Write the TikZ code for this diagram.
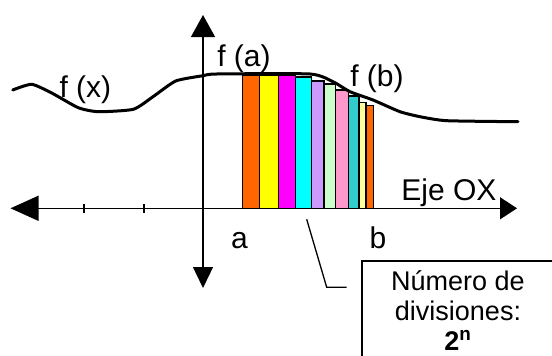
\documentclass[tikz,border=0pt]{standalone}
\usepackage{fontspec}
\setmainfont{Liberation Sans}
\usetikzlibrary{arrows.meta}
\definecolor{bOrange}{HTML}{FF6600}
\definecolor{bYellow}{HTML}{FFFF00}
\definecolor{bMagenta}{HTML}{FF00FF}
\definecolor{bCyan}{HTML}{00FFFF}
\definecolor{bLavender}{HTML}{CC99FF}
\definecolor{bLightGreen}{HTML}{CCFFCC}
\definecolor{bPink}{HTML}{FF99CC}
\definecolor{bTeal}{HTML}{33CCCC}
\definecolor{bLightYellow}{HTML}{FFFF99}
\begin{document}
\begin{tikzpicture}[x=1pt,y=-1pt,
  lbl/.style={font=\fontsize{30}{36}\selectfont, inner sep=0pt, anchor=base},
  boxtxt/.style={font=\fontsize{27}{30}\selectfont, inner sep=0pt, anchor=base},
  bar/.style={draw=black, line width=1.6pt},
  axis/.style={line width=1.3pt},
  thin/.style={line width=1.3pt},
  curve/.style={line width=3pt, line join=round, line cap=round}
  ]
\useasboundingbox (0,0) rectangle (552,356);
% bars
\foreach \l/\r/\t/\c in {242.5/259.5/75/bOrange, 259.5/278.5/75/bYellow,
  278.5/295.5/75/bMagenta, 295.5/311.5/76.7/bCyan, 311.5/323.8/80.7/bLavender,
  323.8/335.3/84/bLightGreen, 335.3/348.3/90/bPink, 348.3/359/96/bTeal,
  359/366/102.3/bLightYellow, 366/373.3/105.3/bOrange}
  \filldraw[bar, fill=\c] (\l,208.3) rectangle (\r,\t);
% curve
\draw[curve] plot[smooth, tension=0.35] coordinates {(12.7,90) (31.7,84.3) (51.7,93) (78.3,107.7) (98.3,111.7) (133.3,109.3) (153,96.7) (175.7,81) (203,75.7) (216.7,74) (310,74) (333,81.7) (350,91.7) (373,100) (400,111.7) (420,116.7) (446.7,120.7) (518,121.7)};
% axes
\coordinate (xl) at (10.5,208.3);
\coordinate (xr) at (517,208.3);
\coordinate (yt) at (203,15);
\coordinate (yb) at (203,288);
\draw[axis, {Triangle[length=28pt,width=25pt]}-{Triangle[length=17pt,width=22pt]}] (xl) -- (xr);
\draw[axis, {Triangle[length=21pt,width=20pt]}-{Triangle[length=22pt,width=24pt]}] (yb) -- (yt);
\draw[axis] (84,204) -- (84,213);
\draw[axis] (144,204) -- (144,213);
% labels
\node[lbl] (fx) at (85.4,97.5) {f (x)};
\node[lbl] (fa) at (244,66) {f (a)};
\node[lbl] (fb) at (377,86) {f (b)};
\node[lbl] (eje) at (449,200) {Eje OX};
\node[lbl] (la) at (239.5,248.3) {a};
\node[lbl] (lb) at (378,248.3) {b};
% box
\begin{scope}
\clip (0,0) rectangle (552,356);
\draw[thin] (362,261) rectangle (575,375);
\end{scope}
\node[boxtxt] (t1) at (458,290) {Número de};
\node[boxtxt] (t2) at (458,320.5) {divisiones:};
\node[boxtxt] (t3) at (458,350) {\textbf{2\textsuperscript{n}}};
% leader
\coordinate (c1) at (306.7,219.3);
\coordinate (c2) at (326.7,287.3);
\coordinate (c3) at (346.7,287.3);
\draw[thin] (c1) -- (c2) -- (c3);
\end{tikzpicture}
\end{document}
